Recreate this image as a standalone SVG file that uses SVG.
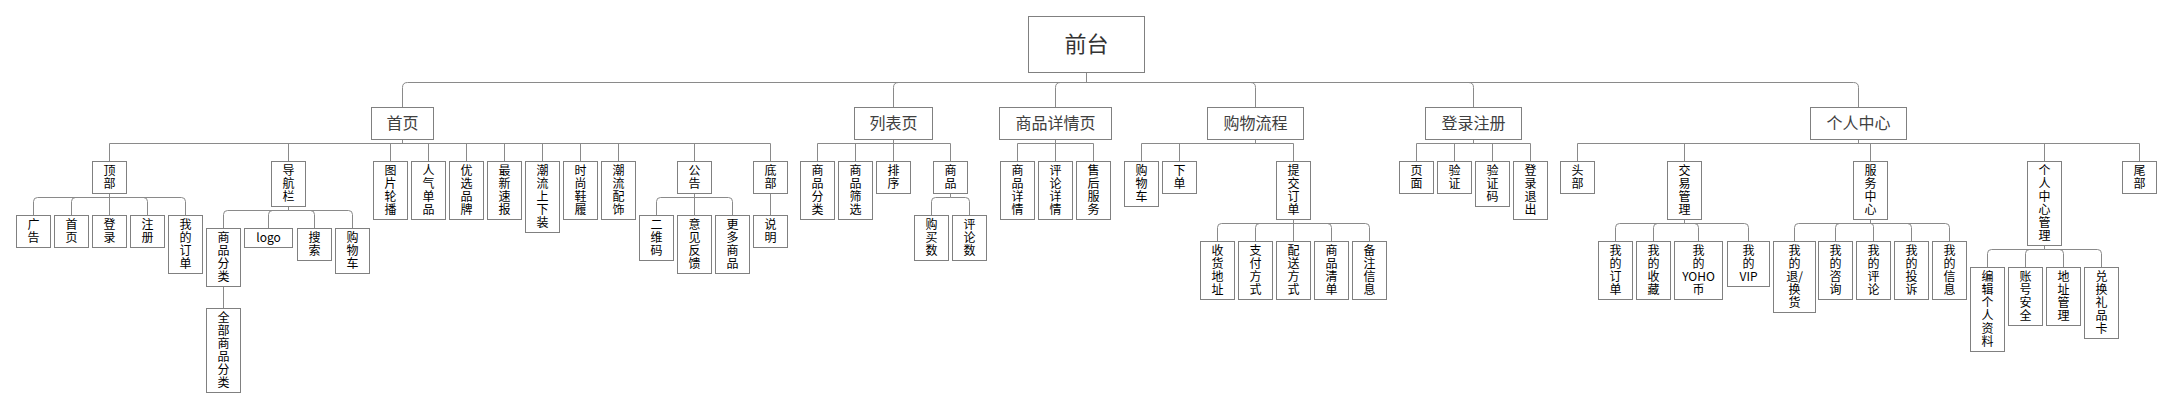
<svg xmlns="http://www.w3.org/2000/svg" width="2173" height="409" viewBox="0 0 2173 409">
<style>
.b{fill:#fff;stroke:#808080;stroke-width:1}
.c{fill:none;stroke:#8a8a8a;stroke-width:1}
.t{font-family:"Noto Sans CJK SC","Liberation Sans",sans-serif;font-size:12px;fill:#000;text-anchor:middle}
.h{font-family:"Noto Sans CJK SC","Liberation Sans",sans-serif;font-size:16px;fill:#404040;text-anchor:middle}
.r{font-family:"Noto Sans CJK SC","Liberation Sans",sans-serif;font-size:22px;fill:#333;text-anchor:middle}
</style>
<rect width="2173" height="409" fill="#fff"/>
<g id="connectors">
<path class="c" d="M1086.5 72.5V82.5H407.5Q402.5 82.5 402.5 87.5V107.5M1086.5 82.5H898.5Q893.5 82.5 893.5 87.5V107.5M1086.5 82.5H1060.5Q1055.5 82.5 1055.5 87.5V107.5M1086.5 82.5H1250.5Q1255.5 82.5 1255.5 87.5V107.5M1086.5 82.5H1468.5Q1473.5 82.5 1473.5 87.5V107.5M1086.5 82.5H1853.5Q1858.5 82.5 1858.5 87.5V107.5"/>
<path class="c" d="M402.5 139.5V143.5M109.5 161.5V143.5H770.5V161.5M288.5 143.5V161.5M390.5 143.5V161.5M428.5 143.5V161.5M466.5 143.5V161.5M504.5 143.5V161.5M542.5 143.5V161.5M580.5 143.5V161.5M618.5 143.5V161.5M694.5 143.5V161.5"/>
<path class="c" d="M893.5 139.5V161.5M817.5 161.5V143.5H950.5V161.5M855.5 143.5V161.5"/>
<path class="c" d="M1055.5 139.5V161.5M1017.5 161.5V143.5H1093.5V161.5"/>
<path class="c" d="M1255.5 139.5V143.5M1141.5 161.5V143.5H1293.5V161.5M1179.5 143.5V161.5"/>
<path class="c" d="M1473.5 139.5V143.5M1416.5 161.5V143.5H1530.5V161.5M1454.5 143.5V161.5M1492.5 143.5V161.5"/>
<path class="c" d="M1858.5 139.5V143.5M1577.5 161.5V143.5H2139.5V161.5M1684.5 143.5V161.5M1870.5 143.5V161.5M2044.5 143.5V161.5"/>
<path class="c" d="M109.5 193.5V197.5H37.5Q33.5 197.5 33.5 201.5V215.5M109.5 197.5H75.5Q71.5 197.5 71.5 201.5V215.5M109.5 193.5V215.5M109.5 197.5H143.5Q147.5 197.5 147.5 201.5V215.5M109.5 197.5H181.5Q185.5 197.5 185.5 201.5V215.5"/>
<path class="c" d="M288.5 206.5V210.5H227.5Q223.5 210.5 223.5 214.5V228.5M288.5 210.5H272.5Q268.5 210.5 268.5 214.5V228.5M288.5 210.5H310.5Q314.5 210.5 314.5 214.5V228.5M288.5 210.5H348.5Q352.5 210.5 352.5 214.5V228.5M223.5 286.5V308.5"/>
<path class="c" d="M694.5 193.5V197.5H660.5Q656.5 197.5 656.5 201.5V215.5M694.5 193.5V215.5M694.5 197.5H728.5Q732.5 197.5 732.5 201.5V215.5M770.5 193.5V215.5"/>
<path class="c" d="M950.5 193.5V197.5H935.5Q931.5 197.5 931.5 201.5V215.5M950.5 197.5H965.5Q969.5 197.5 969.5 201.5V215.5"/>
<path class="c" d="M1293.5 219.5V223.5H1221.5Q1217.5 223.5 1217.5 227.5V241.5M1293.5 223.5H1259.5Q1255.5 223.5 1255.5 227.5V241.5M1293.5 219.5V241.5M1293.5 223.5H1327.5Q1331.5 223.5 1331.5 227.5V241.5M1293.5 223.5H1365.5Q1369.5 223.5 1369.5 227.5V241.5"/>
<path class="c" d="M1684.5 219.5V223.5H1619.5Q1615.5 223.5 1615.5 227.5V241.5M1684.5 223.5H1657.5Q1653.5 223.5 1653.5 227.5V241.5M1684.5 223.5H1694.5Q1698.5 223.5 1698.5 227.5V241.5M1684.5 223.5H1744.5Q1748.5 223.5 1748.5 227.5V241.5"/>
<path class="c" d="M1870.5 219.5V223.5H1798.5Q1794.5 223.5 1794.5 227.5V241.5M1870.5 223.5H1839.5Q1835.5 223.5 1835.5 227.5V241.5M1870.5 223.5Q1873.5 223.5 1873.5 226.5V241.5M1870.5 223.5H1907.5Q1911.5 223.5 1911.5 227.5V241.5M1870.5 223.5H1945.5Q1949.5 223.5 1949.5 227.5V241.5"/>
<path class="c" d="M2044.5 245.5V249.5H1991.5Q1987.5 249.5 1987.5 253.5V267.5M2044.5 249.5H2029.5Q2025.5 249.5 2025.5 253.5V267.5M2044.5 249.5H2059.5Q2063.5 249.5 2063.5 253.5V267.5M2044.5 249.5H2097.5Q2101.5 249.5 2101.5 253.5V267.5"/>
</g>
<g id="root"><rect class="b" x="1028.5" y="16.5" width="116" height="56"/><text class="r" x="1086.5" y="52">前台</text></g>
<g id="shouye"><rect class="b" x="371.5" y="107.5" width="62" height="32"/><text class="h" x="402.5" y="129">首页</text></g>
<g id="liebiaoye"><rect class="b" x="854.5" y="107.5" width="78" height="32"/><text class="h" x="893.5" y="129">列表页</text></g>
<g id="xiangqingye"><rect class="b" x="999.5" y="107.5" width="112" height="32"/><text class="h" x="1055.5" y="129">商品详情页</text></g>
<g id="gouwuliucheng"><rect class="b" x="1207.5" y="107.5" width="96" height="32"/><text class="h" x="1255.5" y="129">购物流程</text></g>
<g id="dengluzhuce"><rect class="b" x="1425.5" y="107.5" width="96" height="32"/><text class="h" x="1473.5" y="129">登录注册</text></g>
<g id="gerenzhongxin"><rect class="b" x="1810.5" y="107.5" width="96" height="32"/><text class="h" x="1858.5" y="129">个人中心</text></g>

<g id="dingbu"><rect class="b" x="92.5" y="161.5" width="34" height="32"/><text class="t"><tspan x="109.5" y="175">顶</tspan><tspan x="109.5" y="188">部</tspan></text></g>
<g id="daohanglan"><rect class="b" x="271.5" y="161.5" width="34" height="45"/><text class="t"><tspan x="288.5" y="175">导</tspan><tspan x="288.5" y="188">航</tspan><tspan x="288.5" y="201">栏</tspan></text></g>
<g id="tupianlunbo"><rect class="b" x="373.5" y="161.5" width="34" height="58"/><text class="t"><tspan x="390.5" y="175">图</tspan><tspan x="390.5" y="188">片</tspan><tspan x="390.5" y="201">轮</tspan><tspan x="390.5" y="214">播</tspan></text></g>
<g id="renqidanpin"><rect class="b" x="411.5" y="161.5" width="34" height="58"/><text class="t"><tspan x="428.5" y="175">人</tspan><tspan x="428.5" y="188">气</tspan><tspan x="428.5" y="201">单</tspan><tspan x="428.5" y="214">品</tspan></text></g>
<g id="youxuanpinpai"><rect class="b" x="449.5" y="161.5" width="34" height="58"/><text class="t"><tspan x="466.5" y="175">优</tspan><tspan x="466.5" y="188">选</tspan><tspan x="466.5" y="201">品</tspan><tspan x="466.5" y="214">牌</tspan></text></g>
<g id="zuixinsubao"><rect class="b" x="487.5" y="161.5" width="34" height="58"/><text class="t"><tspan x="504.5" y="175">最</tspan><tspan x="504.5" y="188">新</tspan><tspan x="504.5" y="201">速</tspan><tspan x="504.5" y="214">报</tspan></text></g>
<g id="chaoliushangxiazhuang"><rect class="b" x="525.5" y="161.5" width="34" height="71"/><text class="t"><tspan x="542.5" y="175">潮</tspan><tspan x="542.5" y="188">流</tspan><tspan x="542.5" y="201">上</tspan><tspan x="542.5" y="214">下</tspan><tspan x="542.5" y="227">装</tspan></text></g>
<g id="shishangxielv"><rect class="b" x="563.5" y="161.5" width="34" height="58"/><text class="t"><tspan x="580.5" y="175">时</tspan><tspan x="580.5" y="188">尚</tspan><tspan x="580.5" y="201">鞋</tspan><tspan x="580.5" y="214">履</tspan></text></g>
<g id="chaoliupeishi"><rect class="b" x="601.5" y="161.5" width="34" height="58"/><text class="t"><tspan x="618.5" y="175">潮</tspan><tspan x="618.5" y="188">流</tspan><tspan x="618.5" y="201">配</tspan><tspan x="618.5" y="214">饰</tspan></text></g>
<g id="gonggao"><rect class="b" x="677.5" y="161.5" width="34" height="32"/><text class="t"><tspan x="694.5" y="175">公</tspan><tspan x="694.5" y="188">告</tspan></text></g>
<g id="dibu"><rect class="b" x="753.5" y="161.5" width="34" height="32"/><text class="t"><tspan x="770.5" y="175">底</tspan><tspan x="770.5" y="188">部</tspan></text></g>

<g id="guanggao"><rect class="b" x="16.5" y="215.5" width="34" height="32"/><text class="t"><tspan x="33.5" y="229">广</tspan><tspan x="33.5" y="242">告</tspan></text></g>
<g id="dingbu-shouye"><rect class="b" x="54.5" y="215.5" width="34" height="32"/><text class="t"><tspan x="71.5" y="229">首</tspan><tspan x="71.5" y="242">页</tspan></text></g>
<g id="denglu"><rect class="b" x="92.5" y="215.5" width="34" height="32"/><text class="t"><tspan x="109.5" y="229">登</tspan><tspan x="109.5" y="242">录</tspan></text></g>
<g id="zhuce"><rect class="b" x="130.5" y="215.5" width="34" height="32"/><text class="t"><tspan x="147.5" y="229">注</tspan><tspan x="147.5" y="242">册</tspan></text></g>
<g id="dingbu-wodedingdan"><rect class="b" x="168.5" y="215.5" width="34" height="58"/><text class="t"><tspan x="185.5" y="229">我</tspan><tspan x="185.5" y="242">的</tspan><tspan x="185.5" y="255">订</tspan><tspan x="185.5" y="268">单</tspan></text></g>
<g id="daohang-shangpinfenlei"><rect class="b" x="206.5" y="228.5" width="34" height="58"/><text class="t"><tspan x="223.5" y="242">商</tspan><tspan x="223.5" y="255">品</tspan><tspan x="223.5" y="268">分</tspan><tspan x="223.5" y="281">类</tspan></text></g>
<g id="logo"><rect class="b" x="244.5" y="228.5" width="48" height="19"/><text class="t" x="268.5" y="242">logo</text></g>
<g id="sousuo"><rect class="b" x="297.5" y="228.5" width="34" height="32"/><text class="t"><tspan x="314.5" y="242">搜</tspan><tspan x="314.5" y="255">索</tspan></text></g>
<g id="daohang-gouwuche"><rect class="b" x="335.5" y="228.5" width="34" height="45"/><text class="t"><tspan x="352.5" y="242">购</tspan><tspan x="352.5" y="255">物</tspan><tspan x="352.5" y="268">车</tspan></text></g>
<g id="quanbushangpinfenlei"><rect class="b" x="206.5" y="308.5" width="34" height="84"/><text class="t"><tspan x="223.5" y="322">全</tspan><tspan x="223.5" y="335">部</tspan><tspan x="223.5" y="348">商</tspan><tspan x="223.5" y="361">品</tspan><tspan x="223.5" y="374">分</tspan><tspan x="223.5" y="387">类</tspan></text></g>
<g id="erweima"><rect class="b" x="639.5" y="215.5" width="34" height="45"/><text class="t"><tspan x="656.5" y="229">二</tspan><tspan x="656.5" y="242">维</tspan><tspan x="656.5" y="255">码</tspan></text></g>
<g id="yijianfankui"><rect class="b" x="677.5" y="215.5" width="34" height="58"/><text class="t"><tspan x="694.5" y="229">意</tspan><tspan x="694.5" y="242">见</tspan><tspan x="694.5" y="255">反</tspan><tspan x="694.5" y="268">馈</tspan></text></g>
<g id="gengduoshangpin"><rect class="b" x="715.5" y="215.5" width="34" height="58"/><text class="t"><tspan x="732.5" y="229">更</tspan><tspan x="732.5" y="242">多</tspan><tspan x="732.5" y="255">商</tspan><tspan x="732.5" y="268">品</tspan></text></g>
<g id="shuoming"><rect class="b" x="753.5" y="215.5" width="34" height="32"/><text class="t"><tspan x="770.5" y="229">说</tspan><tspan x="770.5" y="242">明</tspan></text></g>

<g id="liebiao-shangpinfenlei"><rect class="b" x="800.5" y="161.5" width="34" height="58"/><text class="t"><tspan x="817.5" y="175">商</tspan><tspan x="817.5" y="188">品</tspan><tspan x="817.5" y="201">分</tspan><tspan x="817.5" y="214">类</tspan></text></g>
<g id="shangpinshaixuan"><rect class="b" x="838.5" y="161.5" width="34" height="58"/><text class="t"><tspan x="855.5" y="175">商</tspan><tspan x="855.5" y="188">品</tspan><tspan x="855.5" y="201">筛</tspan><tspan x="855.5" y="214">选</tspan></text></g>
<g id="paixu"><rect class="b" x="876.5" y="161.5" width="34" height="32"/><text class="t"><tspan x="893.5" y="175">排</tspan><tspan x="893.5" y="188">序</tspan></text></g>
<g id="shangpin"><rect class="b" x="933.5" y="161.5" width="34" height="32"/><text class="t"><tspan x="950.5" y="175">商</tspan><tspan x="950.5" y="188">品</tspan></text></g>
<g id="goumaishu"><rect class="b" x="914.5" y="215.5" width="34" height="45"/><text class="t"><tspan x="931.5" y="229">购</tspan><tspan x="931.5" y="242">买</tspan><tspan x="931.5" y="255">数</tspan></text></g>
<g id="pinglunshu"><rect class="b" x="952.5" y="215.5" width="34" height="45"/><text class="t"><tspan x="969.5" y="229">评</tspan><tspan x="969.5" y="242">论</tspan><tspan x="969.5" y="255">数</tspan></text></g>

<g id="shangpinxiangqing"><rect class="b" x="1000.5" y="161.5" width="34" height="58"/><text class="t"><tspan x="1017.5" y="175">商</tspan><tspan x="1017.5" y="188">品</tspan><tspan x="1017.5" y="201">详</tspan><tspan x="1017.5" y="214">情</tspan></text></g>
<g id="pinglunxiangqing"><rect class="b" x="1038.5" y="161.5" width="34" height="58"/><text class="t"><tspan x="1055.5" y="175">评</tspan><tspan x="1055.5" y="188">论</tspan><tspan x="1055.5" y="201">详</tspan><tspan x="1055.5" y="214">情</tspan></text></g>
<g id="shouhoufuwu"><rect class="b" x="1076.5" y="161.5" width="34" height="58"/><text class="t"><tspan x="1093.5" y="175">售</tspan><tspan x="1093.5" y="188">后</tspan><tspan x="1093.5" y="201">服</tspan><tspan x="1093.5" y="214">务</tspan></text></g>

<g id="gouwuche"><rect class="b" x="1124.5" y="161.5" width="34" height="45"/><text class="t"><tspan x="1141.5" y="175">购</tspan><tspan x="1141.5" y="188">物</tspan><tspan x="1141.5" y="201">车</tspan></text></g>
<g id="xiadan"><rect class="b" x="1162.5" y="161.5" width="34" height="32"/><text class="t"><tspan x="1179.5" y="175">下</tspan><tspan x="1179.5" y="188">单</tspan></text></g>
<g id="tijiaodingdan"><rect class="b" x="1276.5" y="161.5" width="34" height="58"/><text class="t"><tspan x="1293.5" y="175">提</tspan><tspan x="1293.5" y="188">交</tspan><tspan x="1293.5" y="201">订</tspan><tspan x="1293.5" y="214">单</tspan></text></g>
<g id="shouhuodizhi"><rect class="b" x="1200.5" y="241.5" width="34" height="58"/><text class="t"><tspan x="1217.5" y="255">收</tspan><tspan x="1217.5" y="268">货</tspan><tspan x="1217.5" y="281">地</tspan><tspan x="1217.5" y="294">址</tspan></text></g>
<g id="zhifufangshi"><rect class="b" x="1238.5" y="241.5" width="34" height="58"/><text class="t"><tspan x="1255.5" y="255">支</tspan><tspan x="1255.5" y="268">付</tspan><tspan x="1255.5" y="281">方</tspan><tspan x="1255.5" y="294">式</tspan></text></g>
<g id="peisongfangshi"><rect class="b" x="1276.5" y="241.5" width="34" height="58"/><text class="t"><tspan x="1293.5" y="255">配</tspan><tspan x="1293.5" y="268">送</tspan><tspan x="1293.5" y="281">方</tspan><tspan x="1293.5" y="294">式</tspan></text></g>
<g id="shangpinqingdan"><rect class="b" x="1314.5" y="241.5" width="34" height="58"/><text class="t"><tspan x="1331.5" y="255">商</tspan><tspan x="1331.5" y="268">品</tspan><tspan x="1331.5" y="281">清</tspan><tspan x="1331.5" y="294">单</tspan></text></g>
<g id="beizhuxinxi"><rect class="b" x="1352.5" y="241.5" width="34" height="58"/><text class="t"><tspan x="1369.5" y="255">备</tspan><tspan x="1369.5" y="268">注</tspan><tspan x="1369.5" y="281">信</tspan><tspan x="1369.5" y="294">息</tspan></text></g>

<g id="yemian"><rect class="b" x="1399.5" y="161.5" width="34" height="32"/><text class="t"><tspan x="1416.5" y="175">页</tspan><tspan x="1416.5" y="188">面</tspan></text></g>
<g id="yanzheng"><rect class="b" x="1437.5" y="161.5" width="34" height="32"/><text class="t"><tspan x="1454.5" y="175">验</tspan><tspan x="1454.5" y="188">证</tspan></text></g>
<g id="yanzhengma"><rect class="b" x="1475.5" y="161.5" width="34" height="45"/><text class="t"><tspan x="1492.5" y="175">验</tspan><tspan x="1492.5" y="188">证</tspan><tspan x="1492.5" y="201">码</tspan></text></g>
<g id="denglutuichu"><rect class="b" x="1513.5" y="161.5" width="34" height="58"/><text class="t"><tspan x="1530.5" y="175">登</tspan><tspan x="1530.5" y="188">录</tspan><tspan x="1530.5" y="201">退</tspan><tspan x="1530.5" y="214">出</tspan></text></g>

<g id="toubu"><rect class="b" x="1560.5" y="161.5" width="34" height="32"/><text class="t"><tspan x="1577.5" y="175">头</tspan><tspan x="1577.5" y="188">部</tspan></text></g>
<g id="jiaoyiguanli"><rect class="b" x="1667.5" y="161.5" width="34" height="58"/><text class="t"><tspan x="1684.5" y="175">交</tspan><tspan x="1684.5" y="188">易</tspan><tspan x="1684.5" y="201">管</tspan><tspan x="1684.5" y="214">理</tspan></text></g>
<g id="fuwuzhongxin"><rect class="b" x="1853.5" y="161.5" width="34" height="58"/><text class="t"><tspan x="1870.5" y="175">服</tspan><tspan x="1870.5" y="188">务</tspan><tspan x="1870.5" y="201">中</tspan><tspan x="1870.5" y="214">心</tspan></text></g>
<g id="gerenzhongxinguanli"><rect class="b" x="2027.5" y="161.5" width="34" height="84"/><text class="t"><tspan x="2044.5" y="175">个</tspan><tspan x="2044.5" y="188">人</tspan><tspan x="2044.5" y="201">中</tspan><tspan x="2044.5" y="214">心</tspan><tspan x="2044.5" y="227">管</tspan><tspan x="2044.5" y="240">理</tspan></text></g>
<g id="weibu"><rect class="b" x="2122.5" y="161.5" width="34" height="32"/><text class="t"><tspan x="2139.5" y="175">尾</tspan><tspan x="2139.5" y="188">部</tspan></text></g>

<g id="wodedingdan"><rect class="b" x="1598.5" y="241.5" width="34" height="58"/><text class="t"><tspan x="1615.5" y="255">我</tspan><tspan x="1615.5" y="268">的</tspan><tspan x="1615.5" y="281">订</tspan><tspan x="1615.5" y="294">单</tspan></text></g>
<g id="wodeshoucang"><rect class="b" x="1636.5" y="241.5" width="34" height="58"/><text class="t"><tspan x="1653.5" y="255">我</tspan><tspan x="1653.5" y="268">的</tspan><tspan x="1653.5" y="281">收</tspan><tspan x="1653.5" y="294">藏</tspan></text></g>
<g id="wodeyohobi"><rect class="b" x="1674.5" y="241.5" width="48" height="58"/><text class="t"><tspan x="1698.5" y="255">我</tspan><tspan x="1698.5" y="268">的</tspan><tspan x="1698.5" y="281">YOHO</tspan><tspan x="1698.5" y="294">币</tspan></text></g>
<g id="wodevip"><rect class="b" x="1727.5" y="241.5" width="42" height="45"/><text class="t"><tspan x="1748.5" y="255">我</tspan><tspan x="1748.5" y="268">的</tspan><tspan x="1748.5" y="281">VIP</tspan></text></g>
<g id="wodetuihuanhuo"><rect class="b" x="1773.5" y="241.5" width="42" height="71"/><text class="t"><tspan x="1794.5" y="255">我</tspan><tspan x="1794.5" y="268">的</tspan><tspan x="1794.5" y="281">退/</tspan><tspan x="1794.5" y="294">换</tspan><tspan x="1794.5" y="307">货</tspan></text></g>
<g id="wodezixun"><rect class="b" x="1818.5" y="241.5" width="34" height="58"/><text class="t"><tspan x="1835.5" y="255">我</tspan><tspan x="1835.5" y="268">的</tspan><tspan x="1835.5" y="281">咨</tspan><tspan x="1835.5" y="294">询</tspan></text></g>
<g id="wodepinglun"><rect class="b" x="1856.5" y="241.5" width="34" height="58"/><text class="t"><tspan x="1873.5" y="255">我</tspan><tspan x="1873.5" y="268">的</tspan><tspan x="1873.5" y="281">评</tspan><tspan x="1873.5" y="294">论</tspan></text></g>
<g id="wodetousu"><rect class="b" x="1894.5" y="241.5" width="34" height="58"/><text class="t"><tspan x="1911.5" y="255">我</tspan><tspan x="1911.5" y="268">的</tspan><tspan x="1911.5" y="281">投</tspan><tspan x="1911.5" y="294">诉</tspan></text></g>
<g id="wodexinxi"><rect class="b" x="1932.5" y="241.5" width="34" height="58"/><text class="t"><tspan x="1949.5" y="255">我</tspan><tspan x="1949.5" y="268">的</tspan><tspan x="1949.5" y="281">信</tspan><tspan x="1949.5" y="294">息</tspan></text></g>

<g id="bianjigerenziliao"><rect class="b" x="1970.5" y="267.5" width="34" height="84"/><text class="t"><tspan x="1987.5" y="281">编</tspan><tspan x="1987.5" y="294">辑</tspan><tspan x="1987.5" y="307">个</tspan><tspan x="1987.5" y="320">人</tspan><tspan x="1987.5" y="333">资</tspan><tspan x="1987.5" y="346">料</tspan></text></g>
<g id="zhanghaoanquan"><rect class="b" x="2008.5" y="267.5" width="34" height="58"/><text class="t"><tspan x="2025.5" y="281">账</tspan><tspan x="2025.5" y="294">号</tspan><tspan x="2025.5" y="307">安</tspan><tspan x="2025.5" y="320">全</tspan></text></g>
<g id="dizhiguanli"><rect class="b" x="2046.5" y="267.5" width="34" height="58"/><text class="t"><tspan x="2063.5" y="281">地</tspan><tspan x="2063.5" y="294">址</tspan><tspan x="2063.5" y="307">管</tspan><tspan x="2063.5" y="320">理</tspan></text></g>
<g id="duihuanlipinka"><rect class="b" x="2084.5" y="267.5" width="34" height="71"/><text class="t"><tspan x="2101.5" y="281">兑</tspan><tspan x="2101.5" y="294">换</tspan><tspan x="2101.5" y="307">礼</tspan><tspan x="2101.5" y="320">品</tspan><tspan x="2101.5" y="333">卡</tspan></text></g>
</svg>
